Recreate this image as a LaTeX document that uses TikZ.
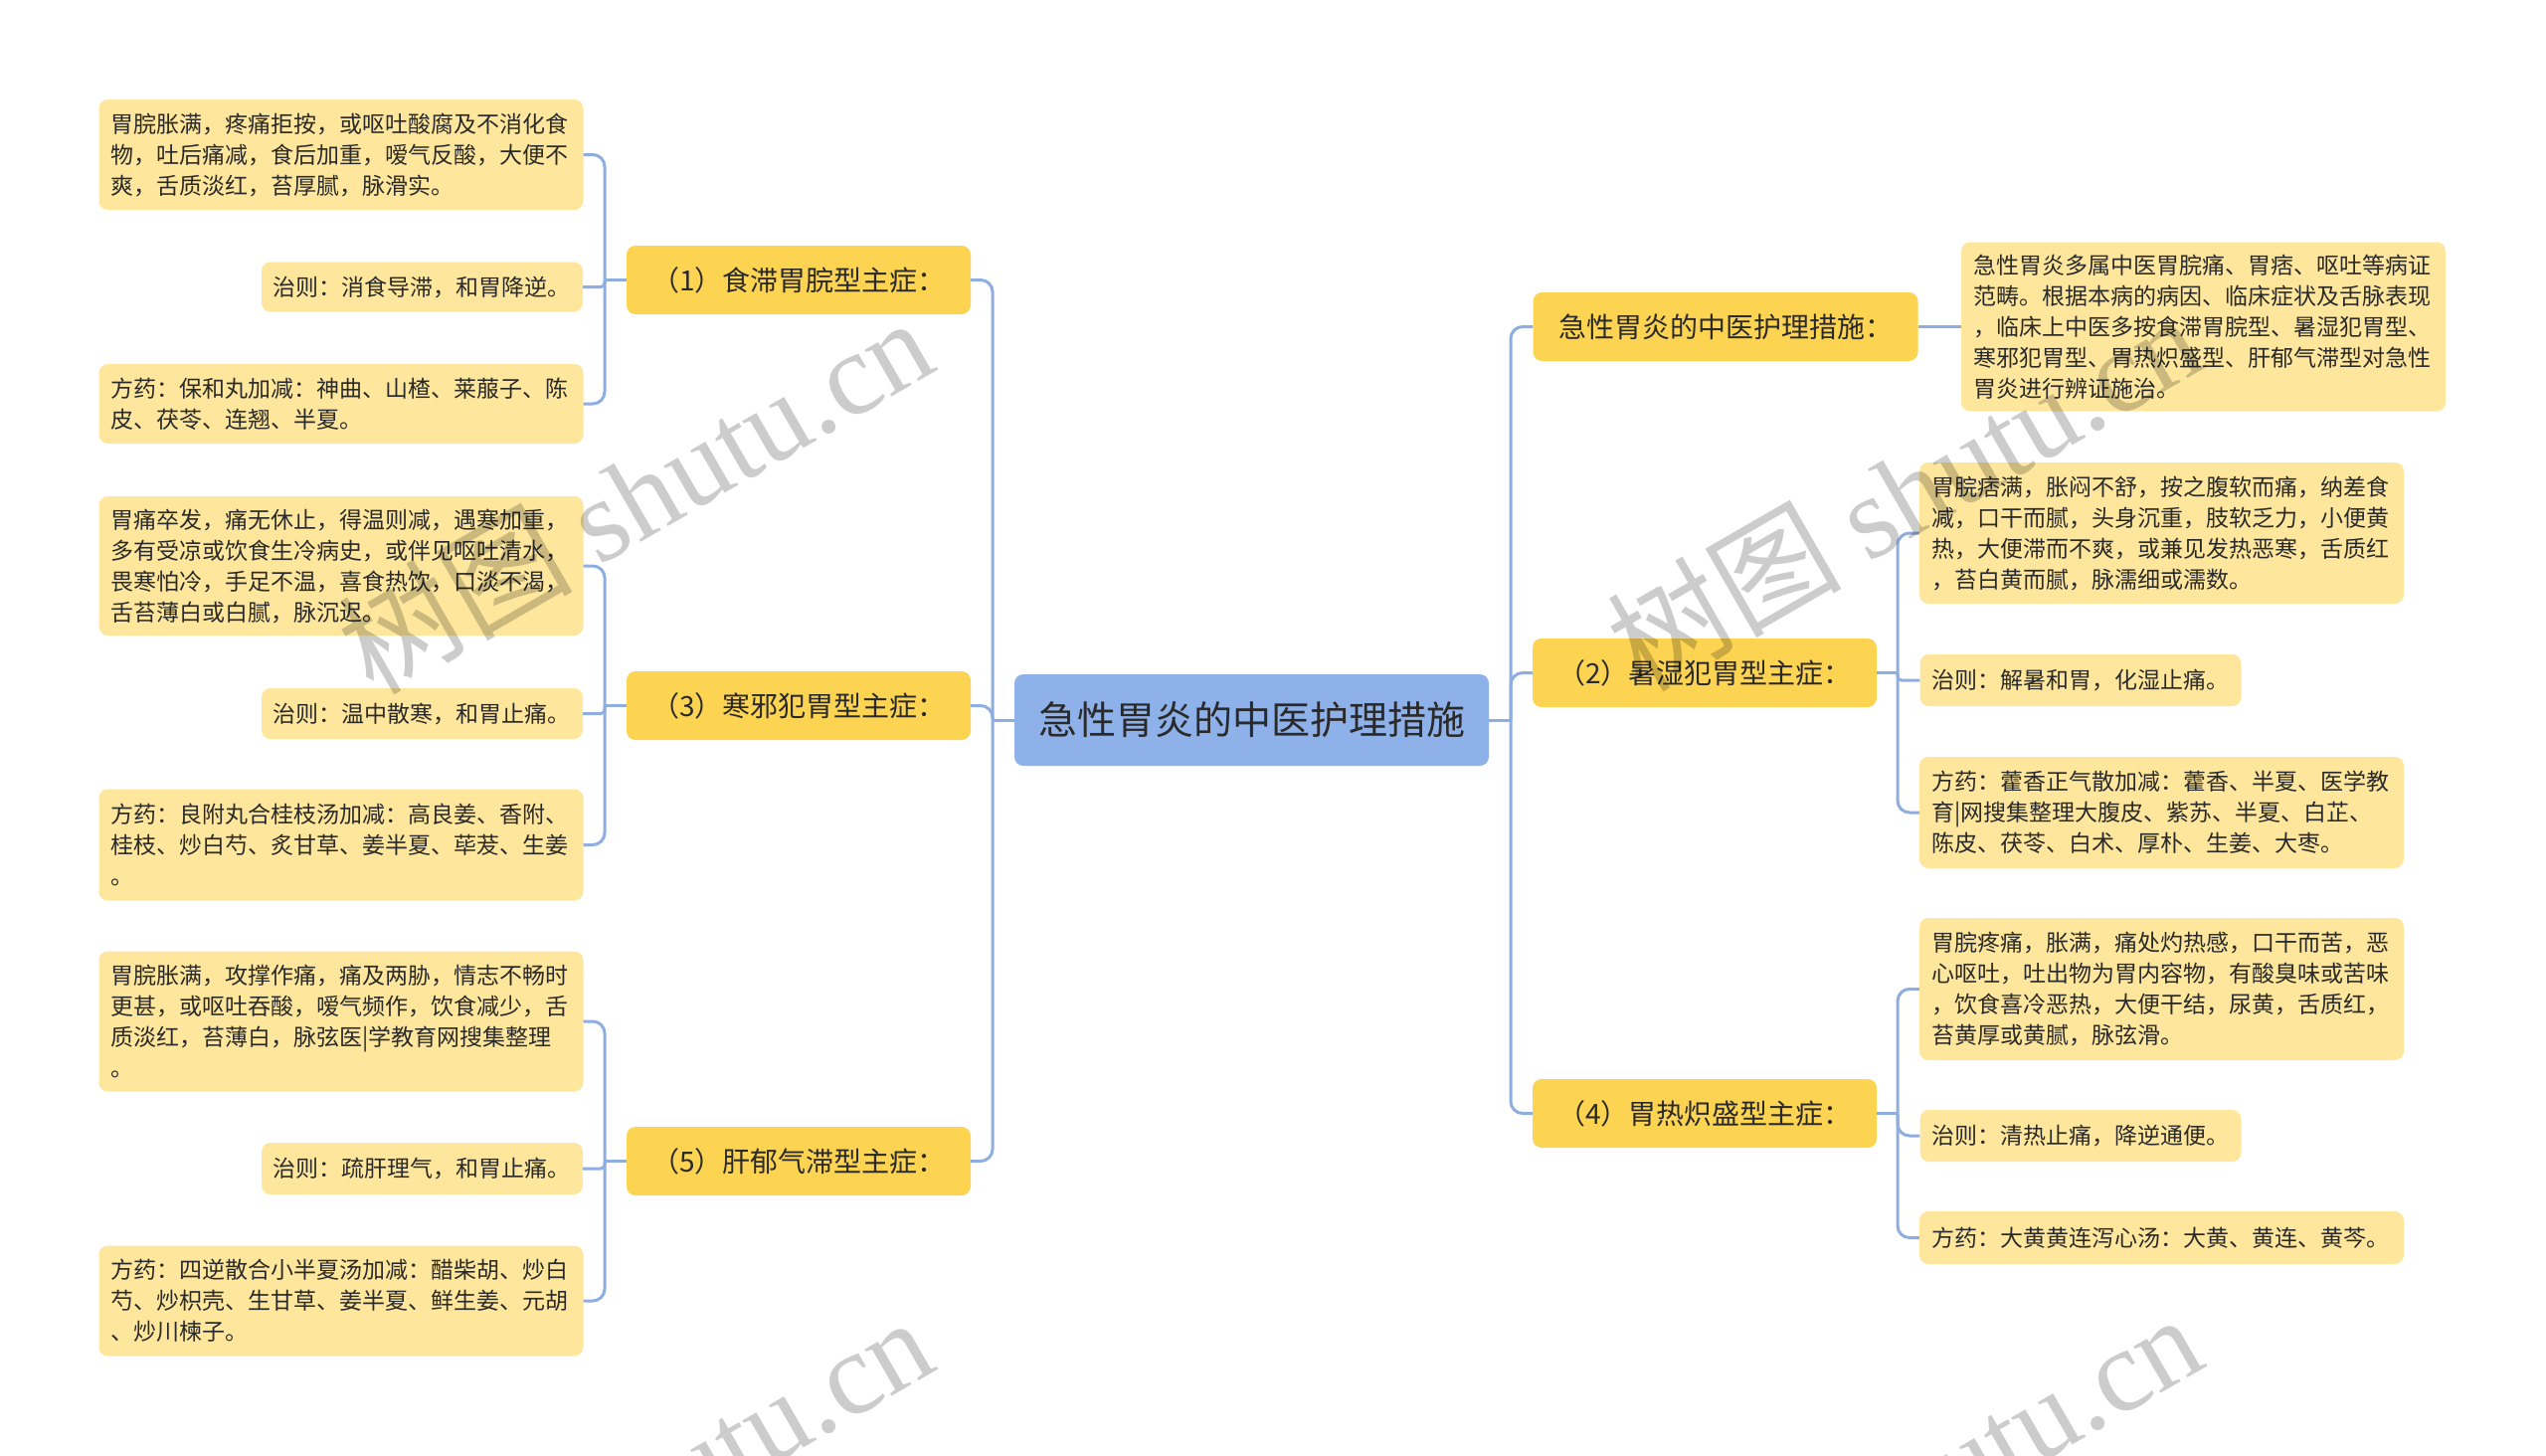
\documentclass[tikz,border=0pt]{standalone}
\usepackage{fontspec}
\setmainfont{Noto Sans CJK SC}
\newfontfamily\wmlatin{Liberation Serif}
\definecolor{rootc}{HTML}{8EB1EA}
\definecolor{catc}{HTML}{FDD352}
\definecolor{leafc}{HTML}{FEE79D}
\definecolor{linec}{HTML}{8EAEE2}
\definecolor{txt}{HTML}{2A2A2A}
\tikzset{
  box/.style={rounded corners=9pt, inner sep=0pt, text=txt},
  rootbox/.style={box, fill=rootc, minimum width=477pt, minimum height=92pt, font=\fontsize{39}{46}\selectfont},
  catbox/.style={box, fill=catc, minimum height=69pt, font=\fontsize{28}{34}\selectfont},
  leafbox/.style={box, fill=leafc, inner xsep=12pt, align=left, text width=463pt, font=\fontsize{23}{31}\selectfont},
  shortleaf/.style={leafbox, inner xsep=11.5pt, text width=300pt},
  conn/.style={draw=linec, line width=3pt},
  elbow/.style={conn, rounded corners=12pt},
  smallelbow/.style={conn, rounded corners=4pt},
  wmark/.style={text=black, text opacity=0.2, rotate=30, anchor=base east, inner sep=0pt, font=\fontsize{118}{130}\selectfont}
}
\begin{document}
\begin{tikzpicture}[x=1pt,y=-1pt]
\fill[white] (0,0) rectangle (2560,1464);
\useasboundingbox (0,0) rectangle (2560,1464);

% trunk x positions
\coordinate (xA) at (998,0);
\coordinate (xB) at (608,0);
\coordinate (xC) at (1519,0);
\coordinate (xD) at (1908,0);

% root
\node[rootbox] (root) at (1258.5,724) {急性胃炎的中医护理措施};

% left categories
\node[catbox, minimum width=346pt] (c1) at (803,281.5) {（1）食滞胃脘型主症：};
\node[catbox, minimum width=346pt] (c3) at (803,709.5) {（3）寒邪犯胃型主症：};
\node[catbox, minimum width=346pt] (c5) at (803,1167.5) {（5）肝郁气滞型主症：};

% right categories
\node[catbox, minimum width=387pt] (r0) at (1735,328.5) {急性胃炎的中医护理措施：};
\node[catbox, minimum width=346pt] (r2) at (1714,676.5) {（2）暑湿犯胃型主症：};
\node[catbox, minimum width=346pt] (r4) at (1714,1119.5) {（4）胃热炽盛型主症：};

% left leaves
\node[leafbox, minimum height=111pt] (L1a) at (343,155.5) {胃脘胀满，疼痛拒按，或呕吐酸腐及不消化食\\物，吐后痛减，食后加重，嗳气反酸，大便不\\爽，舌质淡红，苔厚腻，脉滑实。};
\node[shortleaf, minimum height=50pt] (L1b) at (424.5,288.5) {治则：消食导滞，和胃降逆。};
\node[leafbox, minimum height=80pt] (L1c) at (343,406) {方药：保和丸加减：神曲、山楂、莱菔子、陈\\皮、茯苓、连翘、半夏。};

\node[leafbox, minimum height=140pt] (L3a) at (343,569) {胃痛卒发，痛无休止，得温则减，遇寒加重，\\多有受凉或饮食生冷病史，或伴见呕吐清水，\\畏寒怕冷，手足不温，喜食热饮，口淡不渴，\\舌苔薄白或白腻，脉沉迟。};
\node[shortleaf, minimum height=51pt] (L3b) at (424.5,717.5) {治则：温中散寒，和胃止痛。};
\node[leafbox, minimum height=112pt] (L3c) at (343,849.5) {方药：良附丸合桂枝汤加减：高良姜、香附、\\桂枝、炒白芍、炙甘草、姜半夏、荜茇、生姜\\。};

\node[leafbox, minimum height=141pt] (L5a) at (343,1027) {胃脘胀满，攻撑作痛，痛及两胁，情志不畅时\\更甚，或呕吐吞酸，嗳气频作，饮食减少，舌\\质淡红，苔薄白，脉弦医|学教育网搜集整理\\。};
\node[shortleaf, minimum height=52pt] (L5b) at (424.5,1175) {治则：疏肝理气，和胃止痛。};
\node[leafbox, minimum height=111pt] (L5c) at (343,1308) {方药：四逆散合小半夏汤加减：醋柴胡、炒白\\芍、炒枳壳、生甘草、姜半夏、鲜生姜、元胡\\、炒川楝子。};

% right leaves
\node[leafbox, minimum height=170pt] (R0a) at (2215.5,328.5) {急性胃炎多属中医胃脘痛、胃痞、呕吐等病证\\范畴。根据本病的病因、临床症状及舌脉表现\\，临床上中医多按食滞胃脘型、暑湿犯胃型、\\寒邪犯胃型、胃热炽盛型、肝郁气滞型对急性\\胃炎进行辨证施治。};

\node[leafbox, minimum height=142pt] (R2a) at (2173.5,536) {胃脘痞满，胀闷不舒，按之腹软而痛，纳差食\\减，口干而腻，头身沉重，肢软乏力，小便黄\\热，大便滞而不爽，或兼见发热恶寒，舌质红\\，苔白黄而腻，脉濡细或濡数。};
\node[shortleaf, minimum height=52pt] (R2b) at (2092,684) {治则：解暑和胃，化湿止痛。};
\node[leafbox, minimum height=112pt] (R2c) at (2173.5,817) {方药：藿香正气散加减：藿香、半夏、医学教\\育|网搜集整理大腹皮、紫苏、半夏、白芷、\\陈皮、茯苓、白术、厚朴、生姜、大枣。};

\node[leafbox, minimum height=143pt] (R4a) at (2173.5,994.5) {胃脘疼痛，胀满，痛处灼热感，口干而苦，恶\\心呕吐，吐出物为胃内容物，有酸臭味或苦味\\，饮食喜冷恶热，大便干结，尿黄，舌质红，\\苔黄厚或黄腻，脉弦滑。};
\node[shortleaf, minimum height=52pt] (R4b) at (2092,1142) {治则：清热止痛，降逆通便。};
\node[leafbox, minimum height=53pt] (R4c) at (2173.5,1244.5) {方药：大黄黄连泻心汤：大黄、黄连、黄芩。};

% root connectors
\draw[conn] (root.west) -- (root.west -| xA);
\draw[elbow] (root.west -| xA) |- (c1.east);
\draw[elbow] (root.west -| xA) |- (c3.east);
\draw[elbow] (root.west -| xA) |- (c5.east);
\draw[conn] (root.east) -- (root.east -| xC);
\draw[elbow] (root.east -| xC) |- (r0.west);
\draw[elbow] (root.east -| xC) |- (r2.west);
\draw[elbow] (root.east -| xC) |- (r4.west);

% left category connectors
\draw[conn] (c1.west) -- (c1.west -| xB);
\draw[elbow] (c1.west -| xB) |- (L1a.east);
\draw[smallelbow] (c1.west -| xB) |- (L1b.east);
\draw[elbow] (c1.west -| xB) |- (L1c.east);
\draw[conn] (c3.west) -- (c3.west -| xB);
\draw[elbow] (c3.west -| xB) |- (L3a.east);
\draw[smallelbow] (c3.west -| xB) |- (L3b.east);
\draw[elbow] (c3.west -| xB) |- (L3c.east);
\draw[conn] (c5.west) -- (c5.west -| xB);
\draw[elbow] (c5.west -| xB) |- (L5a.east);
\draw[smallelbow] (c5.west -| xB) |- (L5b.east);
\draw[elbow] (c5.west -| xB) |- (L5c.east);

% right category connectors
\draw[conn] (r0.east) -- (R0a.west);
\draw[conn] (r2.east) -- (r2.east -| xD);
\draw[elbow] (r2.east -| xD) |- (R2a.west);
\draw[smallelbow] (r2.east -| xD) |- (R2b.west);
\draw[elbow] (r2.east -| xD) |- (R2c.west);
\draw[conn] (r4.east) -- (r4.east -| xD);
\draw[elbow] (r4.east -| xD) |- (R4a.west);
\draw[elbow] (r4.east -| xD) |- (R4b.west);
\draw[elbow] (r4.east -| xD) |- (R4c.west);

% watermarks
\node[wmark] (wm1) at (946,371) {树图 {\wmlatin shutu.cn}};
\node[wmark] (wm2) at (2222,368) {树图 {\wmlatin shutu.cn}};
\node[wmark] (wm3) at (946,1376) {树图 {\wmlatin shutu.cn}};
\node[wmark] (wm4) at (2222,1373) {树图 {\wmlatin shutu.cn}};
\end{tikzpicture}
\end{document}
